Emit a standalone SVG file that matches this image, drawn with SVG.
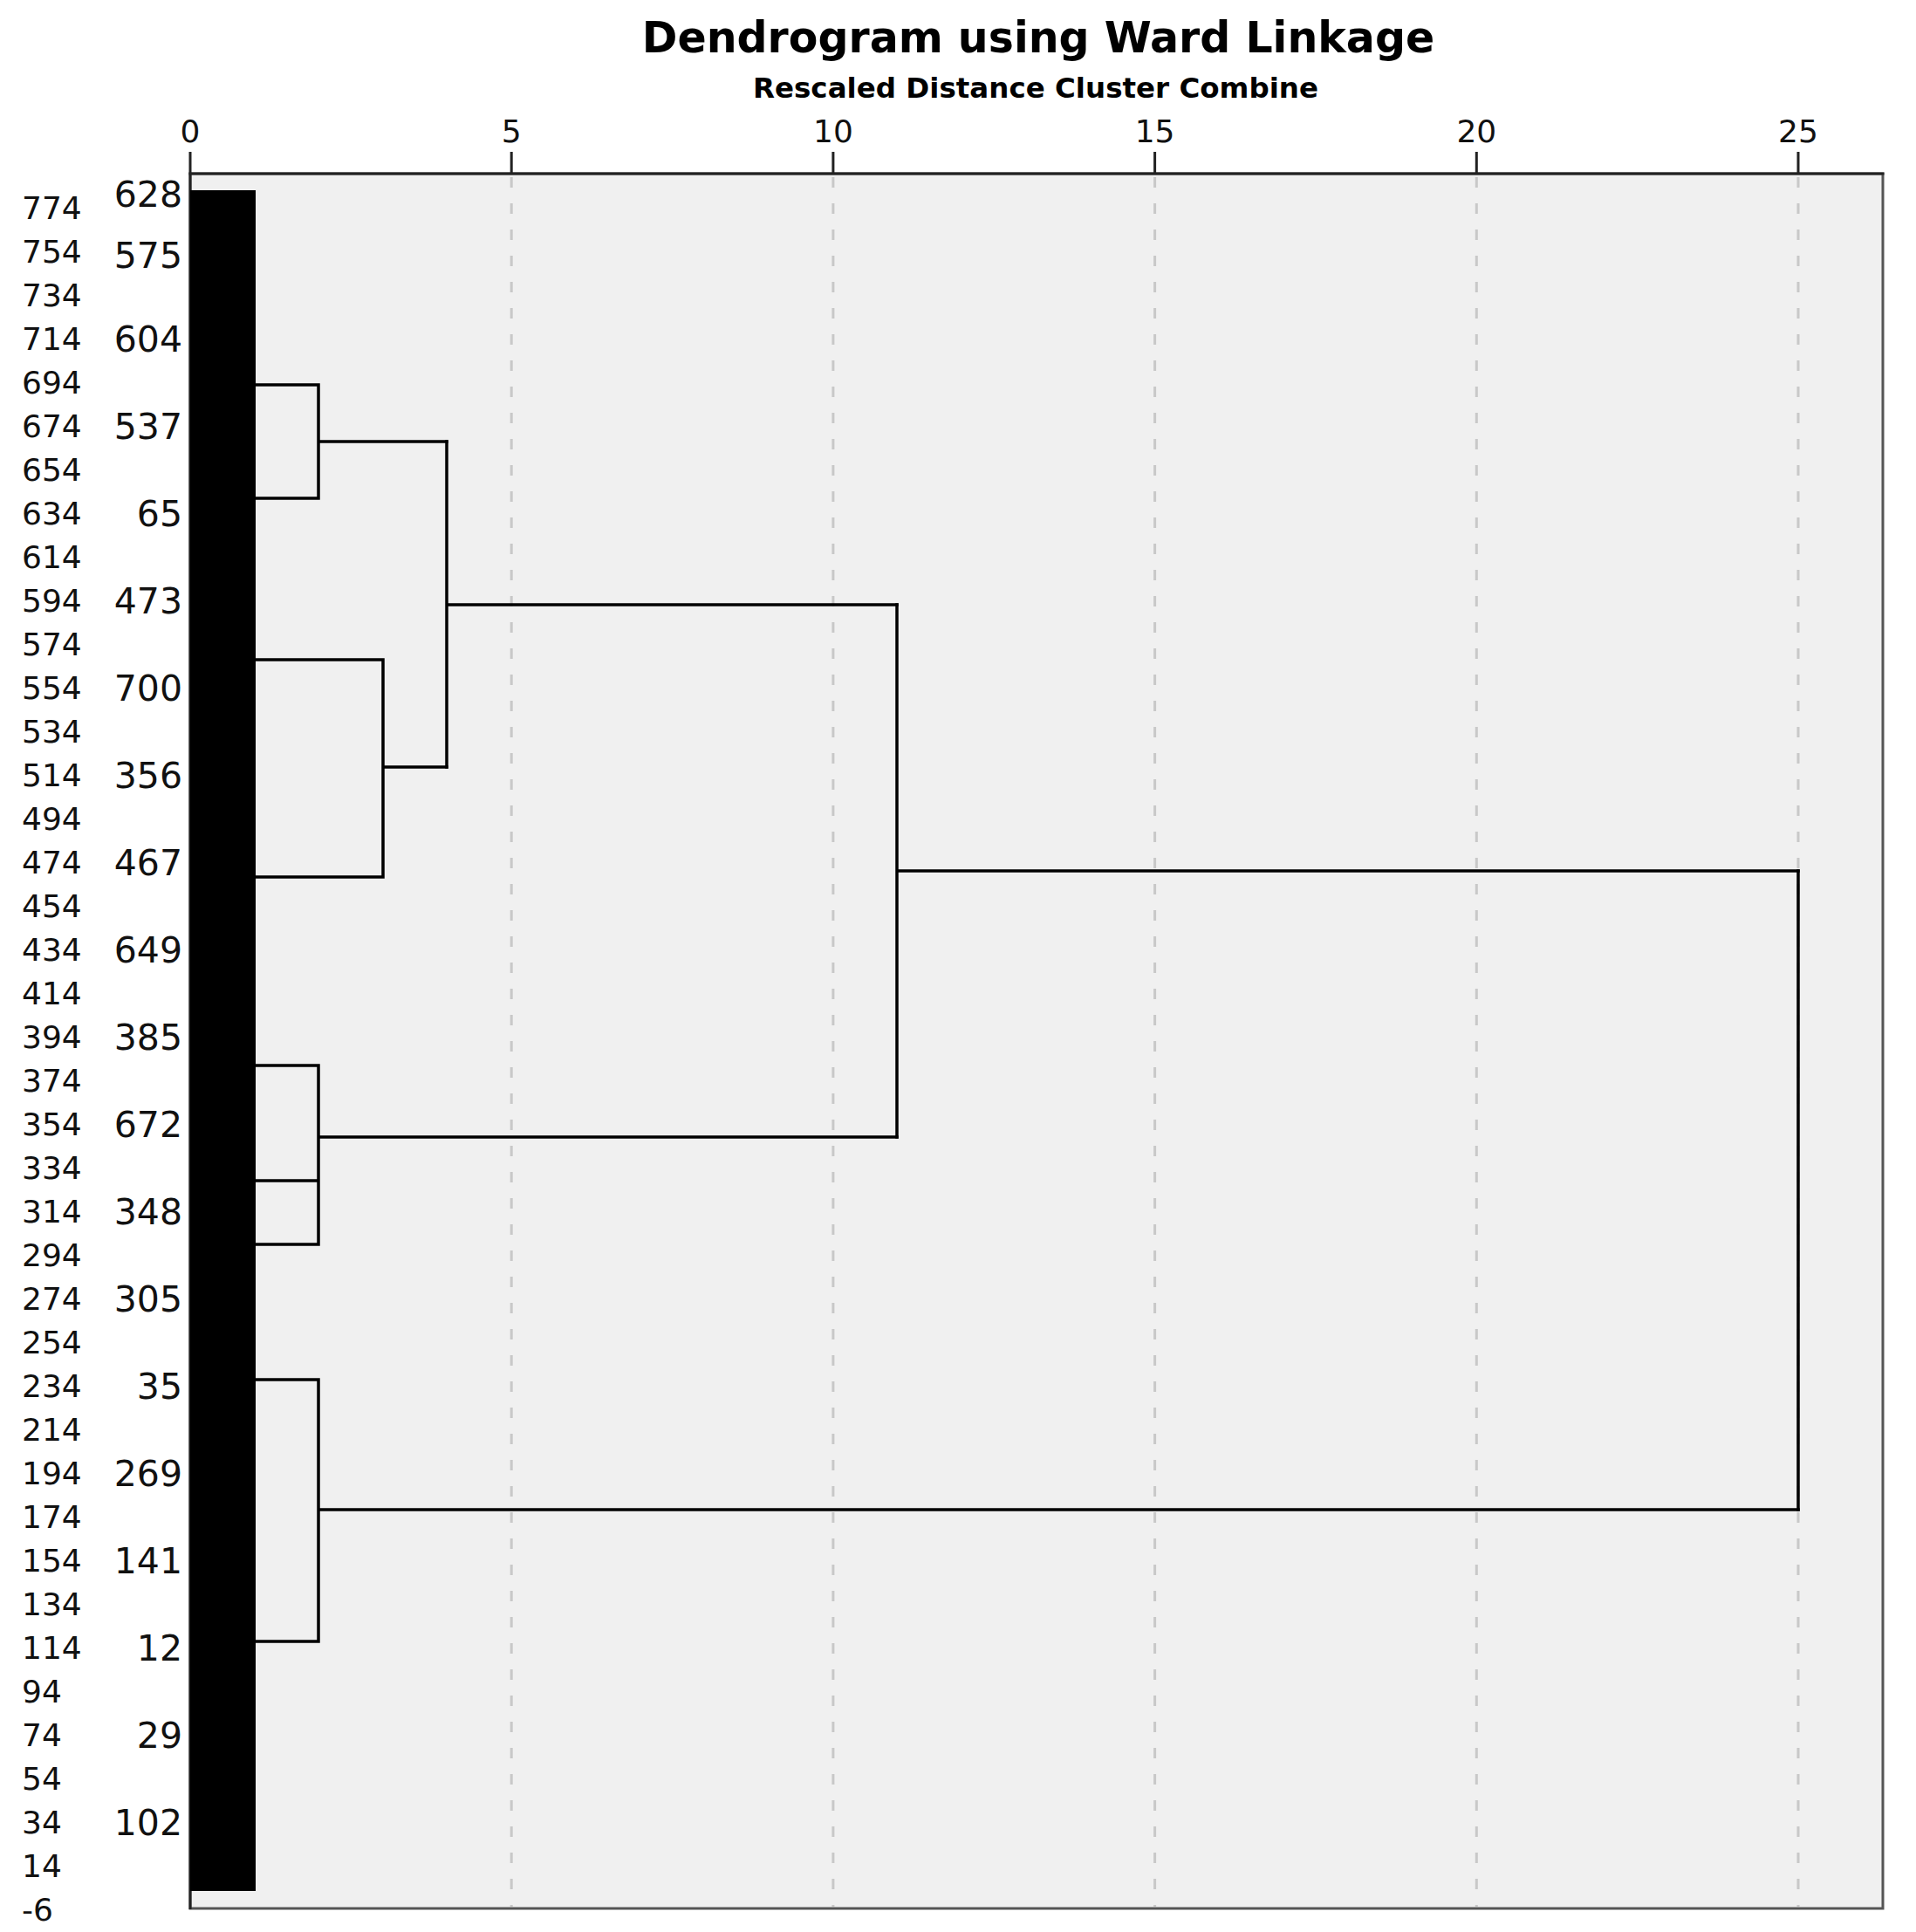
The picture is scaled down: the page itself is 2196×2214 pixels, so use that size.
<svg xmlns="http://www.w3.org/2000/svg" width="2196" height="2214" viewBox="0 0 2196 2214">
<style>
  .title { font-family: "DejaVu Sans", "Liberation Sans", sans-serif; font-weight: bold; fill: #000; }
  .tick { font-family: "DejaVu Sans", "Liberation Sans", sans-serif; font-size: 36px; fill: #111; text-anchor: middle; }
  .lab1 { font-family: "DejaVu Sans", "Liberation Sans", sans-serif; font-size: 36px; fill: #111; }
  .lab2 { font-family: "DejaVu Sans", "Liberation Sans", sans-serif; font-size: 41px; fill: #111; text-anchor: end; }
  .grid { stroke: #c8c8c8; stroke-width: 3; stroke-dasharray: 12 18; fill: none; }
  .tk { stroke: #222; stroke-width: 3; }
  .link { stroke: #000; stroke-width: 3.5; fill: none; stroke-linecap: square; stroke-linejoin: miter; }
</style>
<rect width="2196" height="2214" fill="#ffffff"/>

<g id="titles">
  <text class="title" x="1190" y="60" font-size="49" text-anchor="middle">Dendrogram using Ward Linkage</text>
  <text class="title" x="1187" y="112" font-size="32.5" text-anchor="middle">Rescaled Distance Cluster Combine</text>
</g>

<g id="plot-area">
  <rect x="218" y="199" width="1940" height="1988" fill="#f0f0f0" stroke="#555" stroke-width="3"/>
  <line x1="216.5" y1="199" x2="2159.5" y2="199" stroke="#222" stroke-width="3"/>
  <line x1="218" y1="199" x2="218" y2="2188" stroke="#222" stroke-width="3"/>
</g>

<g id="grid">
  <line class="grid" x1="586.2" y1="203" x2="586.2" y2="2185"/>
  <line class="grid" x1="954.9" y1="203" x2="954.9" y2="2185"/>
  <line class="grid" x1="1323.6" y1="203" x2="1323.6" y2="2185"/>
  <line class="grid" x1="1692.3" y1="203" x2="1692.3" y2="2185"/>
  <line class="grid" x1="2061" y1="203" x2="2061" y2="2185"/>
</g>

<g id="axis">
  <line class="tk" x1="218" y1="174" x2="218" y2="199"/>
  <line class="tk" x1="586.2" y1="174" x2="586.2" y2="199"/>
  <line class="tk" x1="954.9" y1="174" x2="954.9" y2="199"/>
  <line class="tk" x1="1323.6" y1="174" x2="1323.6" y2="199"/>
  <line class="tk" x1="1692.3" y1="174" x2="1692.3" y2="199"/>
  <line class="tk" x1="2061" y1="174" x2="2061" y2="199"/>
  <text class="tick" x="218" y="163">0</text>
  <text class="tick" x="586.2" y="163">5</text>
  <text class="tick" x="954.9" y="163">10</text>
  <text class="tick" x="1323.6" y="163">15</text>
  <text class="tick" x="1692.3" y="163">20</text>
  <text class="tick" x="2061" y="163">25</text>
</g>

<g id="leaf-bar">
  <rect x="218" y="218" width="75" height="1949" fill="#000"/>
</g>

<g id="scale-labels">
  <text class="lab1" x="25" y="251">774</text>
  <text class="lab1" x="25" y="301">754</text>
  <text class="lab1" x="25" y="351">734</text>
  <text class="lab1" x="25" y="401">714</text>
  <text class="lab1" x="25" y="451">694</text>
  <text class="lab1" x="25" y="501">674</text>
  <text class="lab1" x="25" y="551">654</text>
  <text class="lab1" x="25" y="601">634</text>
  <text class="lab1" x="25" y="651">614</text>
  <text class="lab1" x="25" y="701">594</text>
  <text class="lab1" x="25" y="751">574</text>
  <text class="lab1" x="25" y="801">554</text>
  <text class="lab1" x="25" y="851">534</text>
  <text class="lab1" x="25" y="901">514</text>
  <text class="lab1" x="25" y="951">494</text>
  <text class="lab1" x="25" y="1001">474</text>
  <text class="lab1" x="25" y="1051">454</text>
  <text class="lab1" x="25" y="1101">434</text>
  <text class="lab1" x="25" y="1151">414</text>
  <text class="lab1" x="25" y="1201">394</text>
  <text class="lab1" x="25" y="1251">374</text>
  <text class="lab1" x="25" y="1301">354</text>
  <text class="lab1" x="25" y="1351">334</text>
  <text class="lab1" x="25" y="1401">314</text>
  <text class="lab1" x="25" y="1451">294</text>
  <text class="lab1" x="25" y="1501">274</text>
  <text class="lab1" x="25" y="1551">254</text>
  <text class="lab1" x="25" y="1601">234</text>
  <text class="lab1" x="25" y="1651">214</text>
  <text class="lab1" x="25" y="1701">194</text>
  <text class="lab1" x="25" y="1751">174</text>
  <text class="lab1" x="25" y="1801">154</text>
  <text class="lab1" x="25" y="1851">134</text>
  <text class="lab1" x="25" y="1901">114</text>
  <text class="lab1" x="25" y="1951">94</text>
  <text class="lab1" x="25" y="2001">74</text>
  <text class="lab1" x="25" y="2051">54</text>
  <text class="lab1" x="25" y="2101">34</text>
  <text class="lab1" x="25" y="2151">14</text>
  <text class="lab1" x="25" y="2201">-6</text>
</g>

<g id="leaves">
  <g id="leaf-628"><text class="lab2" x="209" y="237">628</text></g>
  <g id="leaf-575"><text class="lab2" x="209" y="307">575</text></g>
  <g id="leaf-604"><text class="lab2" x="209" y="403">604</text></g>
  <g id="leaf-537"><text class="lab2" x="209" y="503">537</text></g>
  <g id="leaf-65"><text class="lab2" x="209" y="603">65</text></g>
  <g id="leaf-473"><text class="lab2" x="209" y="703">473</text></g>
  <g id="leaf-700"><text class="lab2" x="209" y="803">700</text></g>
  <g id="leaf-356"><text class="lab2" x="209" y="903">356</text></g>
  <g id="leaf-467"><text class="lab2" x="209" y="1003">467</text></g>
  <g id="leaf-649"><text class="lab2" x="209" y="1103">649</text></g>
  <g id="leaf-385"><text class="lab2" x="209" y="1203">385</text></g>
  <g id="leaf-672"><text class="lab2" x="209" y="1303">672</text></g>
  <g id="leaf-348"><text class="lab2" x="209" y="1403">348</text></g>
  <g id="leaf-305"><text class="lab2" x="209" y="1503">305</text></g>
  <g id="leaf-35"><text class="lab2" x="209" y="1603">35</text></g>
  <g id="leaf-269"><text class="lab2" x="209" y="1703">269</text></g>
  <g id="leaf-141"><text class="lab2" x="209" y="1803">141</text></g>
  <g id="leaf-12"><text class="lab2" x="209" y="1903">12</text></g>
  <g id="leaf-29"><text class="lab2" x="209" y="2003">29</text></g>
  <g id="leaf-102"><text class="lab2" x="209" y="2103">102</text></g>
</g>

<g id="connectors">
  <path class="link" d="M293,441 H365 V571 H293 M365,506 H512"/>
  <path class="link" d="M293,756 H439 V1005 H293 M439,879 H512"/>
  <path class="link" d="M512,506 V879 M512,693 H1028"/>
  <path class="link" d="M293,1221 H365 V1426 H293 M293,1353 H365 M365,1303 H1028"/>
  <path class="link" d="M1028,693 V1303 M1028,998 H2061"/>
  <path class="link" d="M293,1581 H365 V1881 H293 M365,1730 H2061"/>
  <path class="link" d="M2061,998 V1730"/>
</g>
</svg>
